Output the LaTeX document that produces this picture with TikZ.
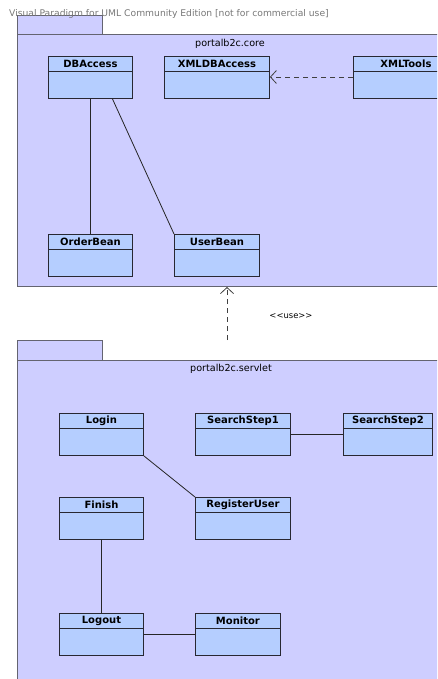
\documentclass[tikz,border=0pt]{standalone}
\usepackage{fontspec}
\setmainfont{DejaVu Sans}
\usetikzlibrary{arrows.meta}
\definecolor{pkgfill}{RGB}{206,206,255}
\definecolor{pkgline}{RGB}{100,100,112}
\definecolor{clsfill}{RGB}{181,206,255}
\definecolor{clsline}{RGB}{40,40,50}
\definecolor{wmark}{RGB}{120,120,120}
\tikzset{
  pkg/.style={draw=pkgline, fill=pkgfill, line width=1pt, rectangle, anchor=north west, inner sep=0pt},
  pkgtitle/.style={font=\fontsize{9.6}{11}\selectfont, text=black, inner sep=0pt},
  cls/.style={draw=clsline, fill=clsfill, line width=0.9pt, rectangle, anchor=north west, inner sep=0pt, minimum height=42pt},
  clsname/.style={font=\bfseries\fontsize{10}{11}\selectfont, inner sep=0pt},
  hdr/.style={draw=clsline, line width=0.8pt},
  assoc/.style={draw=black!85, line width=0.8pt},
  dep/.style={draw=black!75, line width=0.8pt, dash pattern=on 5pt off 4pt, -{Straight Barb[length=6pt,width=13pt,line width=0.8pt]}},
}
\newcommand{\umlclass}[5]{% name, x, y, width, title
  \node[cls, minimum width=#4] (#1) at (#2,#3) {};
  \draw[hdr] ([yshift=-15pt]#1.north west) -- ([yshift=-15pt]#1.north east);
  \node[clsname] (#1t) at ([yshift=-7.5pt]#1.north) {#5};
}
\begin{document}
\begin{tikzpicture}[x=1pt,y=-1pt]
\begin{scope}
\clip (0,0) rectangle (437,679);
\fill[white] (0,0) rectangle (437,679);
% core package
\node[pkg, minimum width=85pt, minimum height=20pt] (coretab) at (17,15) {};
\node[pkg, minimum width=426pt, minimum height=252pt] (core) at (17,34) {};
\node[pkgtitle] (coret) at (230,44) {portalb2c.core};
\node[font=\fontsize{9.2}{10}\selectfont, text=wmark, anchor=west, inner sep=0pt] (wm) at (9,13.5) {Visual Paradigm for UML Community Edition [not for commercial use]};
% servlet package
\node[pkg, minimum width=85pt, minimum height=21pt] (servtab) at (17,340) {};
\node[pkg, minimum width=426pt, minimum height=340pt] (serv) at (17,360) {};
\node[pkgtitle] (servt) at (231,369) {portalb2c.servlet};
% classes in core
\umlclass{dba}{48}{56}{84pt}{DBAccess}
\umlclass{xdba}{164}{56}{105pt}{XMLDBAccess}
\umlclass{xt}{353}{56}{105pt}{XMLTools}
\umlclass{ob}{48}{234}{84pt}{OrderBean}
\umlclass{ub}{174}{234}{85pt}{UserBean}
% classes in servlet
\umlclass{login}{59}{413}{84pt}{Login}
\umlclass{ss1}{195}{413}{95pt}{SearchStep1}
\umlclass{ss2}{343}{413}{89pt}{SearchStep2}
\umlclass{fin}{59}{497}{84pt}{Finish}
\umlclass{reg}{195}{497}{95pt}{RegisterUser}
\umlclass{logout}{59}{613}{84pt}{Logout}
\umlclass{mon}{195}{613}{85pt}{Monitor}
% connectors
\draw[dep] (xt.west |- 0,77) -- (xdba.east |- 0,77);
\draw[assoc] (dba.south) -- (ob.north);
\draw[assoc] ([xshift=22pt]dba.south) -- (ub.north west);
\draw[assoc] (login.south east) -- (reg.north west);
\draw[assoc] (ss1.east) -- (ss1.east -| ss2.west);
\draw[assoc] (fin.south) -- (logout.north);
\draw[assoc] (logout.east) -- (logout.east -| mon.west);
\coordinate (usestart) at (227,340);
\draw[dep] (usestart) -- (usestart |- core.south);
\node[font=\fontsize{8.4}{9}\selectfont, inner sep=0pt] (uselbl) at (291,316) {{<}{<}use{>}{>}};
\end{scope}
\pgfresetboundingbox
\useasboundingbox (0,0) rectangle (437,679);
\end{tikzpicture}
\end{document}
